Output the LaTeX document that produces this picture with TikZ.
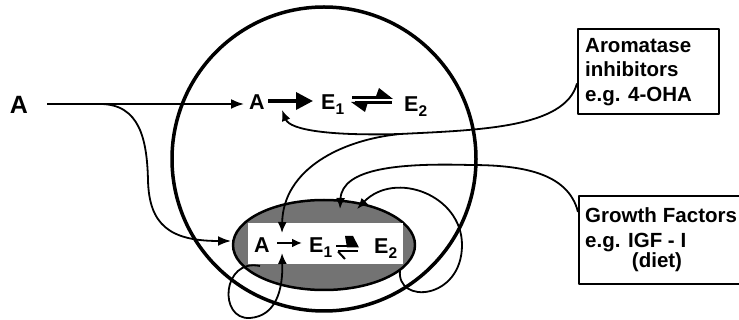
\documentclass[tikz,border=0pt]{standalone}
\usepackage{fontspec}
\setmainfont{Liberation Sans}
\usetikzlibrary{arrows.meta,shapes.geometric}
\newcommand\fsz[1]{\fontsize{#1}{#1}\selectfont}
\newcommand\subx[1]{\raisebox{-4.5pt}{\fsz{15.5}#1}}
\begin{document}
\begin{tikzpicture}[x=1pt,y=-1pt,line join=round,
  curve/.style={line width=1.8pt},
  tip/.style={-{Latex[length=11pt,width=9pt]}},
  lbl/.style={font=\fsz{21.5}\bfseries, inner sep=0pt},
  boxtxt/.style={font=\fsz{20.5}\bfseries, inner sep=0pt, anchor=base west},
  boxframe/.style={draw, line width=2pt, inner sep=0pt, anchor=north west}]
\useasboundingbox (0,0) rectangle (739,320);
% cell and tumour
\node[ellipse, draw, line width=2.5pt, fill=black!55, minimum width=182pt, minimum height=90pt, inner sep=0pt] (cell) at (324,245) {};
\node[fill=white, minimum width=155pt, minimum height=41pt, inner sep=0pt] (win) at (325.5,243.5) {};
\node[circle, draw, line width=3.5pt, minimum size=304pt, inner sep=0pt] (tumour) at (324,159) {};
% boxes
\node[boxframe, minimum width=141pt, minimum height=85pt] (arom) at (577,28) {};
\node[boxframe, minimum width=175pt, minimum height=88pt] (grow) at (578,195) {};
\node[boxtxt] (t1) at (585,53) {Aromatase};
\node[boxtxt] (t2) at (585,77) {inhibitors};
\node[boxtxt] (t3) at (585,102) {e.g. 4-OHA};
\node[boxtxt] (t4) at (585,223) {Growth\hspace{6pt}Factors};
\node[boxtxt] (t5) at (585,248) {e.g. IGF - I};
\node[boxtxt, anchor=base] (t6) at (657,268) {(diet)};
% labels
\node[font=\fsz{25}\bfseries, inner sep=0pt, anchor=base] (Aout) at (19,114) {A};
\node[lbl, anchor=base] (Atop) at (257,110) {A};
\node[lbl, anchor=base west] (E1t) at (321,110) {E\subx{1}};
\node[lbl, anchor=base west] (E2t) at (404,112) {E\subx{2}};
\node[lbl, anchor=base] (Ain) at (262,253) {A};
\node[lbl, anchor=base west] (E1i) at (309,253) {E\subx{1}};
\node[lbl, anchor=base west] (E2i) at (374,254) {E\subx{2}};
% coordinates
\coordinate (s0) at (47,104);
\coordinate (a1) at (244,104);
\coordinate (br) at (100,104);
\coordinate (c1end) at (231,241);
\coordinate (ab) at (400,134);
\coordinate (aTop) at (282,110);
\coordinate (aIn) at (282,233);
\coordinate (gIn) at (340,209);
\coordinate (rStart) at (400,270);
\coordinate (rEnd) at (357,209);
\coordinate (lStart) at (260,266);
\coordinate (lEnd) at (282,253);
\coordinate (k1) at (268,101);
\coordinate (k2) at (313,101);
\coordinate (m1) at (277,243);
\coordinate (m2) at (302,243);
% A input
\draw[curve, -{Latex[length=13pt,width=10pt]}] (s0) -- (a1);
\draw[curve, -{Latex[length=13pt,width=10pt]}] (br) .. controls (140,104) and (147,140) .. (148,180) .. controls (149,225) and (170,241) .. (c1end);
% formula arrows top
\draw[line width=3.5pt, -{Triangle[length=17pt,width=17pt]}] (k1) -- (k2);
\draw[line width=3pt] (352,97.5) -- (390,97.5);
\fill (393,99) -- (379,88) -- (375,99) -- cycle;
\draw[line width=3pt] (355,103) -- (392,103);
\fill (351,102) -- (365,112) -- (368,102) -- cycle;
% formula arrows in cell
\draw[line width=2pt, -{Latex[length=10pt,width=9pt]}] (m1) -- (m2);
\draw[line width=2.5pt] (336,246) -- (356,246);
\fill (359,247.5) -- (353,236) -- (345,236) -- (347,247.5) -- cycle;
\draw[line width=2pt] (338,251.5) -- (358,251.5);
\draw[line width=2pt] (338,251.5) -- (345,259);
% aromatase inhibitor
\draw[curve] ([yshift=-12pt]arom.west) .. controls (565,128) and (480,130) .. (ab);
\draw[curve, tip] (ab) .. controls (330,136) and (290,130) .. (aTop);
\draw[curve, tip] (ab) .. controls (340,140) and (283,170) .. (aIn);
% growth factors
\draw[curve, tip] ([yshift=28pt]grow.west) .. controls (568,172) and (520,165) .. (470,165) .. controls (400,163) and (342,168) .. (gIn);
% autocrine loops
\draw[curve, tip] (rStart) .. controls (396,305) and (462,300) .. (462,245) .. controls (462,195) and (395,170) .. (rEnd);
\draw[curve, tip] (lStart) .. controls (222,258) and (218,320) .. (250,318) .. controls (276,316) and (283,290) .. (lEnd);
\end{tikzpicture}
\end{document}
